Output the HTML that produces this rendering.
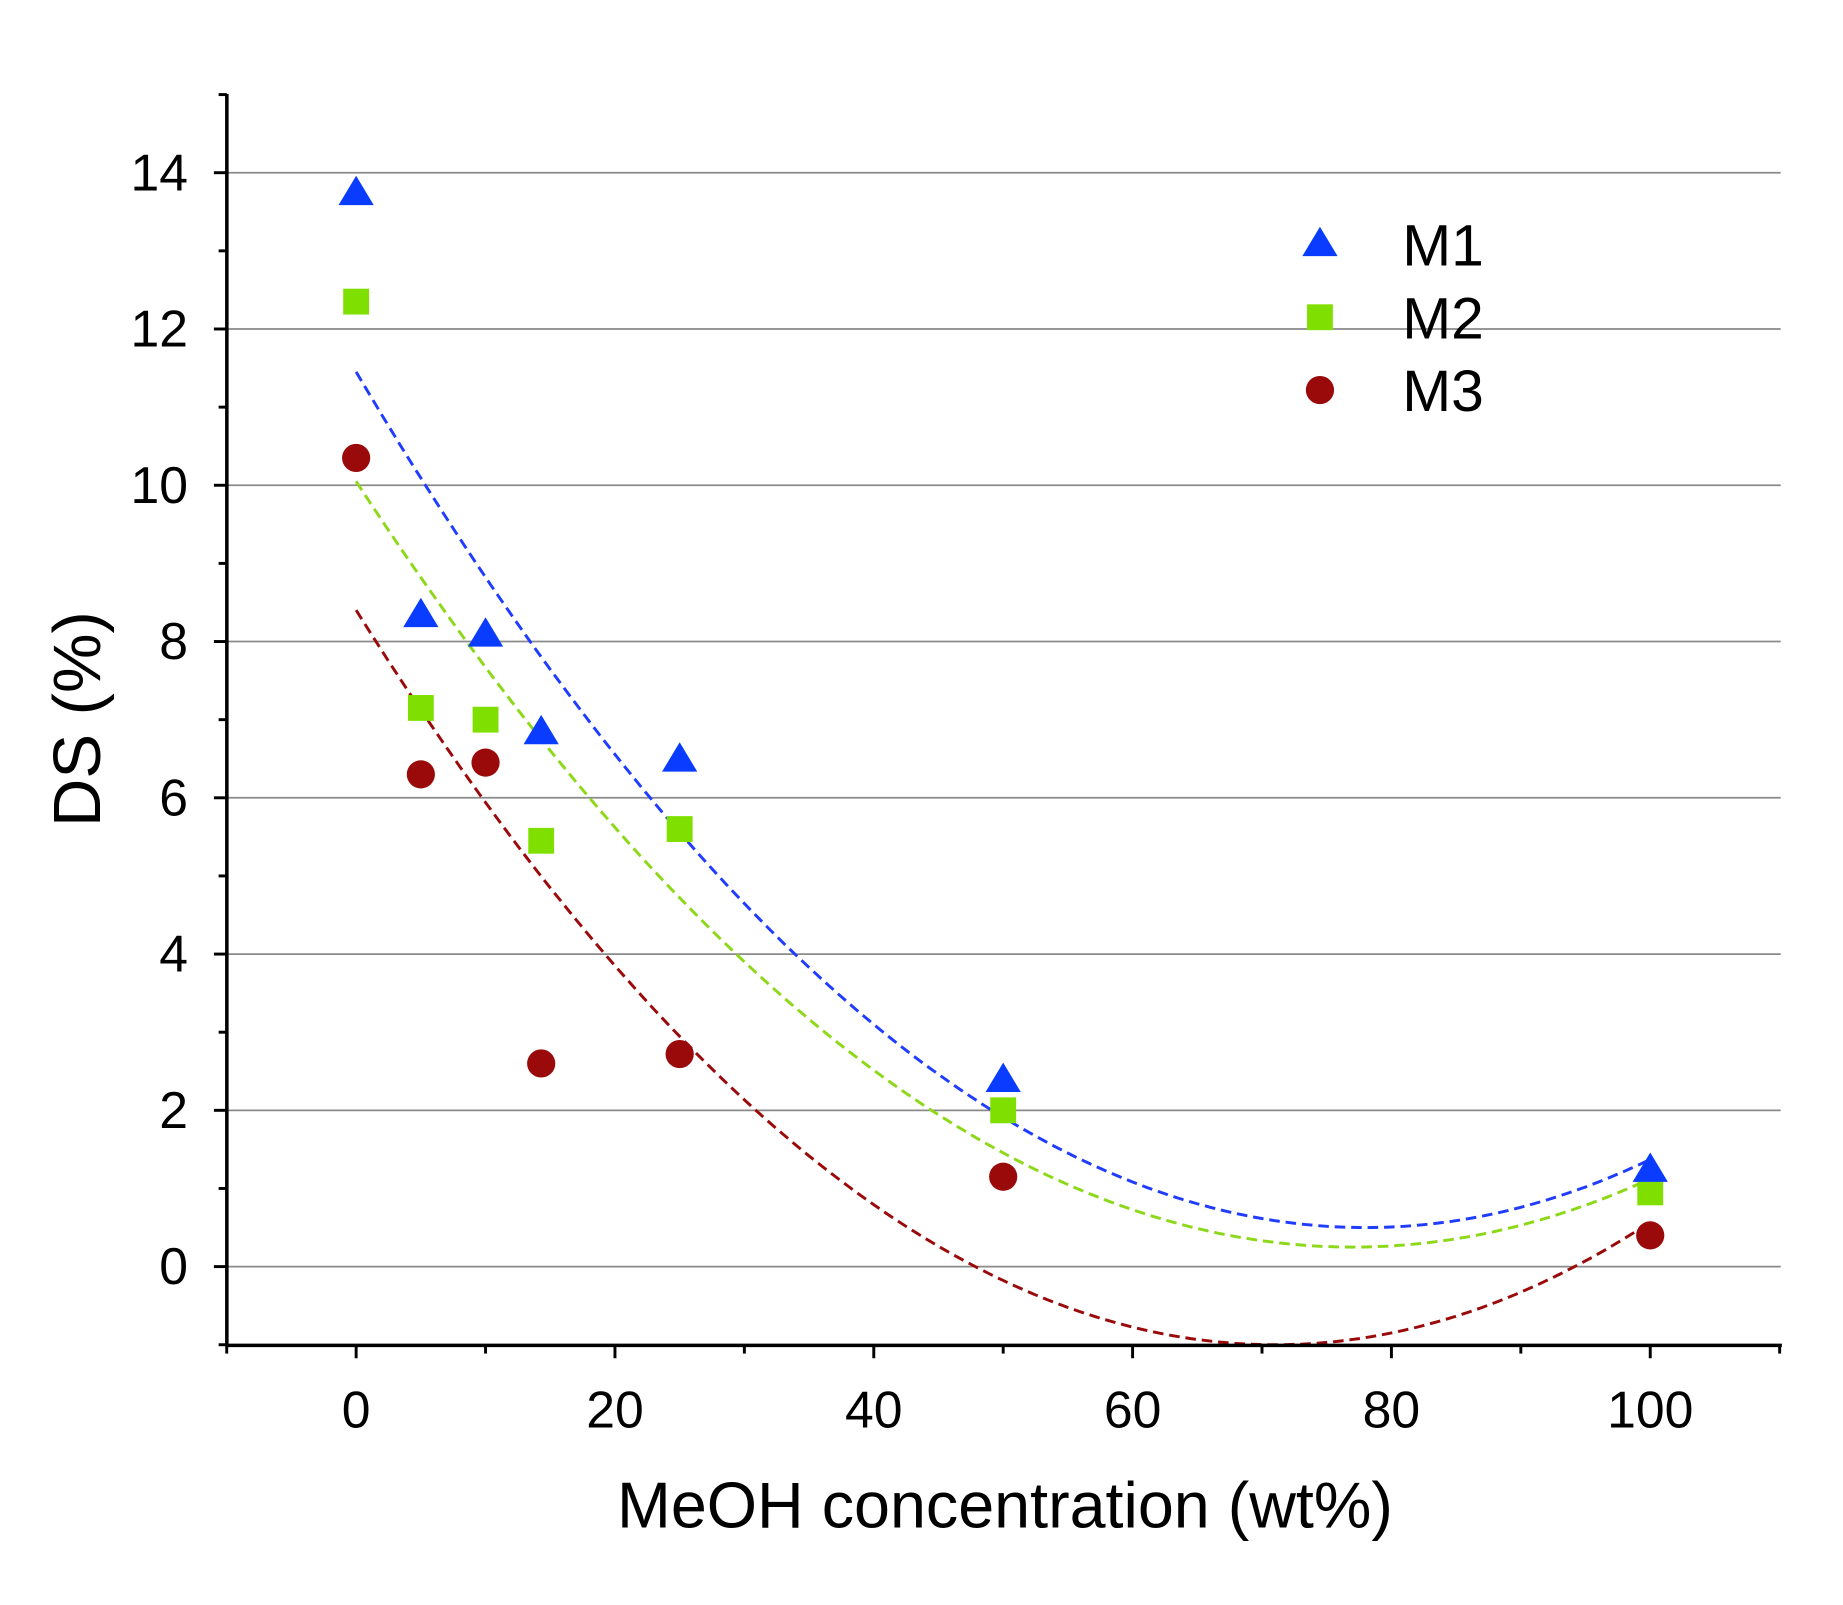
<!DOCTYPE html>
<html><head><style>html,body{margin:0;padding:0;background:#fff}svg{display:block}</style></head>
<body>
<svg id="s" width="1843" height="1605" viewBox="0 0 1568 1366" preserveAspectRatio="none" xmlns="http://www.w3.org/2000/svg" font-family="Liberation Sans, Arial, sans-serif">
<rect width="1568" height="1366" fill="#fff"/>
<g id="grid" stroke="#8a8a8a" stroke-width="1.5"></g>
<g id="curves" fill="none" stroke-width="2.5" stroke-dasharray="9,5"></g>
<g id="axes" stroke="#000" stroke-width="3"></g>
<g id="lab" font-size="44" fill="#000"></g>
<g id="pts"></g>
<text x="70" y="612" font-size="57" text-anchor="middle" transform="rotate(-90 70 612)" dominant-baseline="middle">DS (%)</text>
<text x="855" y="1300" font-size="55" text-anchor="middle">MeOH concentration (wt%)</text>
<polygon points="1123,193 1108,218 1138,218" fill="#0a3cff"/>
<text x="1193" y="226" font-size="50">M1</text>
<rect x="1112" y="259" width="22" height="22" fill="#7fe000"/>
<text x="1193" y="288" font-size="50">M2</text>
<circle cx="1123" cy="332" r="12" fill="#9b0a0a"/>
<text x="1193" y="350" font-size="50">M3</text>
</svg>
<script>
const NS="http://www.w3.org/2000/svg";
const X=x=>303+11.01*x, Y=y=>1078-66.5*y;
function el(p,t,a,txt){const e=document.createElementNS(NS,t);for(const k in a)e.setAttribute(k,a[k]);if(txt!=null)e.textContent=txt;document.getElementById(p).appendChild(e);return e;}
for(let v=0;v<=14;v+=2)el("grid","line",{x1:193,x2:1515,y1:Y(v),y2:Y(v)});
el("axes","line",{x1:193,x2:193,y1:80,y2:1146});
el("axes","line",{x1:192,x2:1516,y1:1145,y2:1145});
for(let v=-1;v<=15;v++){const maj=v%2==0;el("axes","line",{x1:193,x2:maj?182:186,y1:Y(v),y2:Y(v),"stroke-width":2.5});
 if(maj&&v>=0)el("lab","text",{x:160,y:Y(v)+15,"text-anchor":"end"},v);}
for(let v=-10;v<=110;v+=10){const maj=v%20==0;el("axes","line",{x1:X(v),x2:X(v),y1:1145,y2:maj?1156:1152,"stroke-width":2.5});
 if(maj&&v>=0&&v<=100)el("lab","text",{x:X(v),y:1215,"text-anchor":"middle"},v);}
const fits=[["#1f3cff",0.0018,78,0.5],["#8ed81a",0.001653,77,0.25],["#9b0a0a",0.001865,71,-1.0]];
for(const [c,a,h,k] of fits){let d="";for(let x=0;x<=100;x+=0.5){const y=Math.max(a*(x-h)**2+k,-1);d+=(x?"L":"M")+X(x).toFixed(1)+","+Y(y).toFixed(1);}el("curves","path",{d:d,stroke:c});}
const xs=[0,5,10,14.3,25,50,100];
const m1=[13.75,8.35,8.1,6.85,6.5,2.4,1.25],m2=[12.35,7.15,7.0,5.45,5.6,2.0,0.95],m3=[10.35,6.3,6.45,2.6,2.72,1.15,0.4];
xs.forEach((x,i)=>{const px=X(x);
 el("pts","circle",{cx:px,cy:Y(m3[i]),r:12,fill:"#9b0a0a"});
 el("pts","rect",{x:px-11,y:Y(m2[i])-11,width:22,height:22,fill:"#7fe000"});
 const py=Y(m1[i]);el("pts","polygon",{points:`${px},${py-14} ${px-15},${py+11} ${px+15},${py+11}`,fill:"#0a3cff"});});
</script>
</body></html>
